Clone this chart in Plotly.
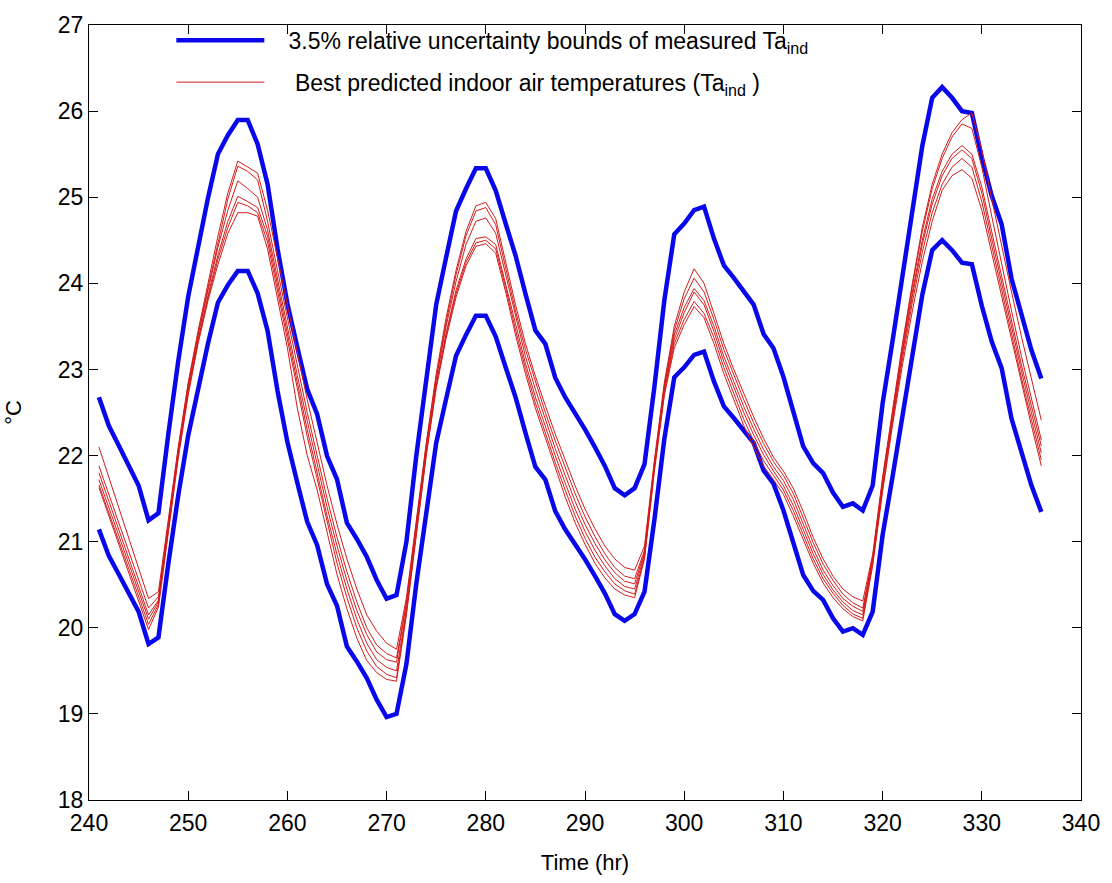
import plotly.graph_objects as go

# Hourly time axis (hr)
hours = list(range(241, 337))

# Measured indoor air temperature Ta_ind (degC), one value per hour
measured_ta = [
    21.91, 21.59, 21.37, 21.14, 20.92, 20.53, 20.61, 21.50, 22.32, 23.04,
    23.62, 24.15, 24.64, 24.85, 25.02, 25.02, 24.75, 24.30, 23.58, 22.96,
    22.47, 22.00, 21.72, 21.25, 20.99, 20.50, 20.32, 20.12, 19.86, 19.65,
    19.69, 20.29, 21.26, 22.13, 22.95, 23.48, 24.00, 24.25, 24.48, 24.48,
    24.23, 23.86, 23.50, 23.07, 22.66, 22.51, 22.13, 21.91, 21.74, 21.55,
    21.35, 21.14, 20.89, 20.81, 20.89, 21.16, 22.03, 23.00, 23.74, 23.86,
    24.01, 24.05, 23.69, 23.39, 23.25, 23.09, 22.95, 22.62, 22.46, 22.14,
    21.74, 21.36, 21.17, 21.06, 20.84, 20.68, 20.72, 20.64, 20.92, 21.84,
    22.54, 23.29, 24.06, 24.73, 25.27, 25.39, 25.27, 25.12, 25.10, 24.60,
    24.17, 23.85, 23.24, 22.85, 22.44, 22.12,
]

# Relative uncertainty of the measurement
rel_uncertainty = 0.035

# Best predicted indoor air temperatures (six model runs), degC
pred_1 = [
    22.10, 21.75, 21.40, 21.05, 20.70, 20.34, 20.42, 21.25, 22.10, 22.85,
    23.45, 24.00, 24.55, 25.05, 25.42, 25.35, 25.28, 24.85, 24.30, 23.75,
    23.20, 22.65, 22.15, 21.65, 21.20, 20.80, 20.45, 20.15, 19.96, 19.82,
    19.75, 20.35, 21.25, 22.15, 22.95, 23.60, 24.15, 24.60, 24.90, 24.94,
    24.75, 24.25, 23.75, 23.30, 22.92, 22.58, 22.25, 21.95, 21.65, 21.38,
    21.15, 20.95, 20.80, 20.70, 20.67, 20.95, 21.95, 22.85, 23.50, 23.90,
    24.17, 24.00, 23.65, 23.30, 23.00, 22.72, 22.45, 22.20, 21.98, 21.82,
    21.62, 21.35, 21.05, 20.80, 20.60, 20.45, 20.36, 20.31, 20.85, 21.75,
    22.55, 23.30, 24.00, 24.65, 25.15, 25.50, 25.75, 25.90, 25.98, 25.55,
    24.98, 24.42, 23.90, 23.38, 22.88, 22.41,
]
pred_2 = [
    21.88, 21.55, 21.22, 20.89, 20.56, 20.23, 20.36, 21.22, 22.08, 22.82,
    23.42, 23.95, 24.48, 24.98, 25.36, 25.30, 25.20, 24.72, 24.15, 23.60,
    23.05, 22.50, 22.00, 21.50, 21.05, 20.65, 20.30, 20.00, 19.80, 19.70,
    19.65, 20.30, 21.22, 22.12, 22.90, 23.55, 24.10, 24.55, 24.84, 24.88,
    24.68, 24.18, 23.68, 23.23, 22.85, 22.50, 22.17, 21.86, 21.56, 21.29,
    21.06, 20.86, 20.70, 20.60, 20.57, 20.90, 21.92, 22.82, 23.45, 23.82,
    24.06, 23.90, 23.58, 23.23, 22.93, 22.65, 22.38, 22.14, 21.93, 21.77,
    21.56, 21.28, 20.99, 20.74, 20.55, 20.39, 20.29, 20.23, 20.82, 21.72,
    22.52, 23.27, 23.97, 24.60, 25.10, 25.45, 25.70, 25.85, 25.80, 25.35,
    24.78, 24.22, 23.68, 23.15, 22.65, 22.18,
]
pred_3 = [
    21.80, 21.47, 21.14, 20.81, 20.48, 20.15, 20.32, 21.20, 22.05, 22.80,
    23.40, 23.92, 24.42, 24.85, 25.19, 25.10, 25.00, 24.62, 24.05, 23.48,
    22.93, 22.40, 21.90, 21.40, 20.95, 20.55, 20.20, 19.92, 19.72, 19.63,
    19.60, 20.28, 21.20, 22.10, 22.88, 23.50, 24.02, 24.45, 24.72, 24.76,
    24.58, 24.10, 23.60, 23.15, 22.77, 22.42, 22.08, 21.77, 21.47, 21.20,
    20.98, 20.79, 20.64, 20.54, 20.51, 20.88, 21.90, 22.80, 23.40, 23.72,
    23.94, 23.80, 23.50, 23.15, 22.85, 22.57, 22.31, 22.07, 21.87, 21.71,
    21.49, 21.21, 20.92, 20.67, 20.49, 20.34, 20.25, 20.19, 20.80, 21.70,
    22.48, 23.22, 23.90, 24.50, 24.98, 25.30, 25.50, 25.60, 25.50, 25.12,
    24.60, 24.08, 23.55, 23.05, 22.58, 22.11,
]
pred_4 = [
    21.72, 21.40, 21.07, 20.75, 20.42, 20.10, 20.30, 21.18, 22.02, 22.76,
    23.35, 23.86, 24.33, 24.72, 25.01, 24.95, 24.88, 24.55, 23.97, 23.40,
    22.85, 22.30, 21.80, 21.30, 20.85, 20.45, 20.10, 19.82, 19.63, 19.54,
    19.50, 20.22, 21.15, 22.05, 22.82, 23.42, 23.92, 24.28, 24.52, 24.54,
    24.45, 24.00, 23.52, 23.07, 22.68, 22.33, 22.00, 21.68, 21.38, 21.12,
    20.90, 20.72, 20.57, 20.48, 20.45, 20.85, 21.88, 22.76, 23.35, 23.66,
    23.90, 23.75, 23.44, 23.09, 22.79, 22.50, 22.24, 22.01, 21.82, 21.65,
    21.42, 21.14, 20.86, 20.62, 20.44, 20.30, 20.20, 20.15, 20.78, 21.66,
    22.44, 23.18, 23.85, 24.45, 24.92, 25.25, 25.45, 25.55, 25.45, 25.05,
    24.52, 24.00, 23.48, 22.98, 22.50, 22.03,
]
pred_5 = [
    21.66, 21.34, 21.01, 20.69, 20.36, 20.04, 20.27, 21.15, 22.00, 22.74,
    23.33, 23.83, 24.28, 24.65, 24.94, 24.90, 24.82, 24.48, 23.90, 23.33,
    22.78, 22.22, 21.72, 21.22, 20.75, 20.35, 20.00, 19.73, 19.55, 19.46,
    19.42, 20.18, 21.12, 22.02, 22.80, 23.40, 23.88, 24.24, 24.47, 24.50,
    24.40, 23.95, 23.46, 23.01, 22.61, 22.26, 21.92, 21.60, 21.30, 21.04,
    20.82, 20.65, 20.51, 20.43, 20.39, 20.82, 21.85, 22.73, 23.30, 23.58,
    23.79, 23.65, 23.37, 23.02, 22.72, 22.42, 22.17, 21.94, 21.77, 21.60,
    21.36, 21.08, 20.80, 20.57, 20.40, 20.26, 20.16, 20.11, 20.75, 21.62,
    22.40, 23.12, 23.78, 24.36, 24.82, 25.15, 25.35, 25.45, 25.35, 24.95,
    24.43, 23.92, 23.40, 22.90, 22.42, 21.95,
]
pred_6 = [
    21.63, 21.30, 20.97, 20.64, 20.31, 19.98, 20.24, 21.12, 21.97, 22.70,
    23.30, 23.80, 24.22, 24.58, 24.82, 24.82, 24.78, 24.40, 23.82, 23.25,
    22.55, 22.00, 21.60, 21.10, 20.62, 20.22, 19.88, 19.62, 19.48, 19.40,
    19.38, 20.15, 21.10, 22.00, 22.78, 23.36, 23.84, 24.20, 24.43, 24.46,
    24.35, 23.90, 23.40, 22.95, 22.55, 22.20, 21.85, 21.52, 21.22, 20.97,
    20.75, 20.58, 20.45, 20.38, 20.35, 20.80, 21.82, 22.70, 23.25, 23.52,
    23.73, 23.60, 23.30, 22.95, 22.65, 22.35, 22.10, 21.88, 21.72, 21.55,
    21.30, 21.02, 20.75, 20.52, 20.35, 20.22, 20.13, 20.08, 20.72, 21.58,
    22.35, 23.05, 23.68, 24.25, 24.72, 25.08, 25.25, 25.32, 25.22, 24.85,
    24.35, 23.84, 23.33, 22.83, 22.35, 21.88,
]
predictions = [pred_1, pred_2, pred_3, pred_4, pred_5, pred_6]

upper_bound = [v * (1 + rel_uncertainty) for v in measured_ta]
lower_bound = [v * (1 - rel_uncertainty) for v in measured_ta]

BLUE = "rgb(8,8,235)"
RED = "rgb(210,28,28)"
FONT = "Liberation Sans, Arial, sans-serif"
GAP = "\u00a0" * 3

fig = go.Figure()

for i, bound in enumerate([upper_bound, lower_bound]):
    fig.add_trace(go.Scatter(
        x=hours, y=bound, mode="lines",
        line=dict(color=BLUE, width=4.5),
        name=GAP + "3.5% relative uncertainty bounds of measured Ta<sub>ind</sub>",
        legendgroup="bounds", showlegend=(i == 0),
    ))

for i, series in enumerate(predictions):
    fig.add_trace(go.Scatter(
        x=hours, y=series, mode="lines",
        line=dict(color=RED, width=1),
        name=GAP + " Best predicted indoor air temperatures (Ta<sub>ind</sub> )",
        legendgroup="pred", showlegend=(i == 0),
    ))

axis_common = dict(
    showline=True, linecolor="black", linewidth=1, mirror="ticks",
    ticks="inside", ticklen=9, tickcolor="black", tickwidth=1,
    showgrid=False, zeroline=False,
    tickfont=dict(family=FONT, size=23, color="black"),
)

fig.update_xaxes(
    range=[240, 340], dtick=10, tick0=240, ticklabelstandoff=2,
    title=dict(text="Time (hr)", font=dict(family=FONT, size=22, color="black"), standoff=20),
    **axis_common,
)
fig.update_yaxes(
    range=[18, 27], dtick=1, tick0=18,
    title=dict(text="°C", font=dict(family=FONT, size=22, color="black"), standoff=30),
    **axis_common,
)

fig.update_layout(
    width=1112, height=883,
    margin=dict(l=89, r=26, t=17, b=82),
    paper_bgcolor="white", plot_bgcolor="white",
    showlegend=True,
    legend=dict(
        x=0.083, y=1.008, xanchor="left", yanchor="top",
        bgcolor="rgba(255,255,255,0)", borderwidth=0,
        font=dict(family=FONT, size=23, color="black"),
        itemwidth=88, tracegroupgap=9,
    ),
)

fig.write_html("out.html")
